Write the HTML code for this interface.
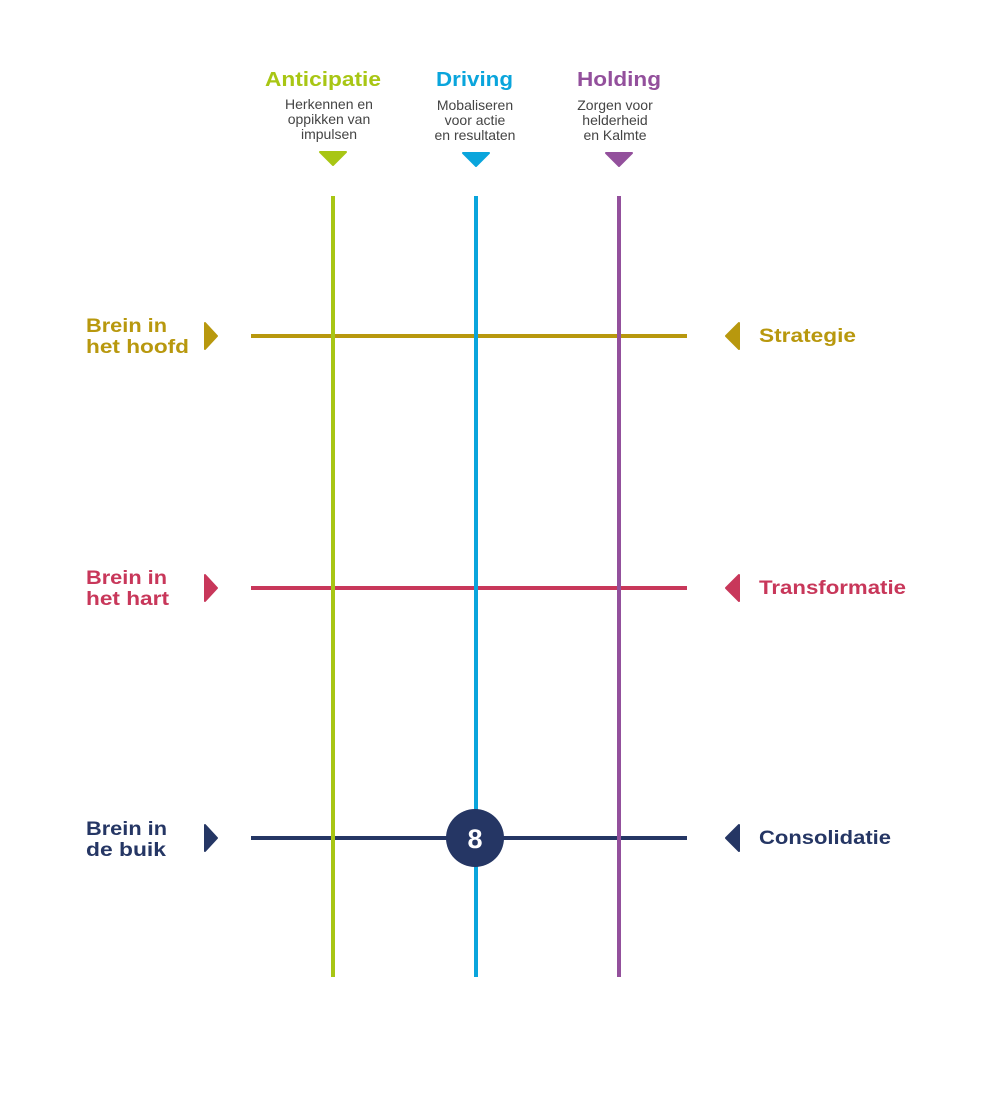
<!DOCTYPE html>
<html><head><meta charset="utf-8"><style>
html,body{margin:0;padding:0;background:#fff;width:999px;height:1093px;overflow:hidden}
svg{display:block}
.h{font-family:"Liberation Sans",sans-serif;font-weight:bold;font-size:20px}
.s{font-family:"Liberation Sans",sans-serif;font-size:14px;fill:#444}
.l{font-family:"Liberation Sans",sans-serif;font-weight:bold;font-size:19.5px}
</style></head><body>
<svg width="999" height="1093" viewBox="0 0 999 1093" xmlns="http://www.w3.org/2000/svg">
<rect width="999" height="1093" fill="#fff"/>
<text class="h" x="265" y="86" textLength="116" lengthAdjust="spacingAndGlyphs" fill="#a8c614">Anticipatie</text>
<text class="h" x="436" y="86" textLength="77" lengthAdjust="spacingAndGlyphs" fill="#0aa5dc">Driving</text>
<text class="h" x="577" y="86" textLength="84" lengthAdjust="spacingAndGlyphs" fill="#93509c">Holding</text>
<text class="s" text-anchor="middle"><tspan x="329" y="109">Herkennen en</tspan><tspan x="329" y="124">oppikken van</tspan><tspan x="329" y="139">impulsen</tspan></text>
<text class="s" text-anchor="middle"><tspan x="475" y="110">Mobaliseren</tspan><tspan x="475" y="125">voor actie</tspan><tspan x="475" y="140">en resultaten</tspan></text>
<text class="s" text-anchor="middle"><tspan x="615" y="110">Zorgen voor</tspan><tspan x="615" y="125">helderheid</tspan><tspan x="615" y="140">en Kalmte</tspan></text>
<path d="M320 152 L346 152 L333 165 Z" fill="#a8c614" stroke="#a8c614" stroke-linejoin="round" stroke-width="2"/>
<path d="M463 153 L489 153 L476 166 Z" fill="#0aa5dc" stroke="#0aa5dc" stroke-linejoin="round" stroke-width="2"/>
<path d="M606 153 L632 153 L619 166 Z" fill="#93509c" stroke="#93509c" stroke-linejoin="round" stroke-width="2"/>
<line x1="251" y1="336" x2="687" y2="336" stroke="#b8980e" stroke-width="4"/>
<line x1="251" y1="588" x2="687" y2="588" stroke="#c8375a" stroke-width="4"/>
<line x1="251" y1="838" x2="687" y2="838" stroke="#253664" stroke-width="4"/>
<line x1="333" y1="196" x2="333" y2="977" stroke="#a8c614" stroke-width="4"/>
<line x1="476" y1="196" x2="476" y2="977" stroke="#0aa5dc" stroke-width="4"/>
<line x1="619" y1="196" x2="619" y2="977" stroke="#93509c" stroke-width="4"/>
<circle cx="475" cy="838" r="29" fill="#253664"/>
<text x="475" y="848" text-anchor="middle" fill="#fff" font-family="Liberation Sans,sans-serif" font-weight="bold" font-size="27">8</text>
<text class="l" fill="#b8980e"><tspan x="86" y="332" textLength="81" lengthAdjust="spacingAndGlyphs">Brein in</tspan><tspan x="86" y="353" textLength="103" lengthAdjust="spacingAndGlyphs">het hoofd</tspan></text>
<text class="l" fill="#c8375a"><tspan x="86" y="584" textLength="81" lengthAdjust="spacingAndGlyphs">Brein in</tspan><tspan x="86" y="605" textLength="83" lengthAdjust="spacingAndGlyphs">het hart</tspan></text>
<text class="l" fill="#253664"><tspan x="86" y="835" textLength="81" lengthAdjust="spacingAndGlyphs">Brein in</tspan><tspan x="86" y="856" textLength="80" lengthAdjust="spacingAndGlyphs">de buik</tspan></text>
<path d="M205 323 L217 336 L205 349 Z" fill="#b8980e" stroke="#b8980e" stroke-width="2" stroke-linejoin="round"/>
<path d="M205 575 L217 588 L205 601 Z" fill="#c8375a" stroke="#c8375a" stroke-width="2" stroke-linejoin="round"/>
<path d="M205 825 L217 838 L205 851 Z" fill="#253664" stroke="#253664" stroke-width="2" stroke-linejoin="round"/>
<path d="M739 323 L726 336 L739 349 Z" fill="#b8980e" stroke="#b8980e" stroke-width="2" stroke-linejoin="round"/>
<path d="M739 575 L726 588 L739 601 Z" fill="#c8375a" stroke="#c8375a" stroke-width="2" stroke-linejoin="round"/>
<path d="M739 825 L726 838 L739 851 Z" fill="#253664" stroke="#253664" stroke-width="2" stroke-linejoin="round"/>
<text class="l" x="759" y="342" textLength="97" lengthAdjust="spacingAndGlyphs" fill="#b8980e">Strategie</text>
<text class="l" x="759" y="594" textLength="147" lengthAdjust="spacingAndGlyphs" fill="#c8375a">Transformatie</text>
<text class="l" x="759" y="844" textLength="132" lengthAdjust="spacingAndGlyphs" fill="#253664">Consolidatie</text>
</svg>
</body></html>
